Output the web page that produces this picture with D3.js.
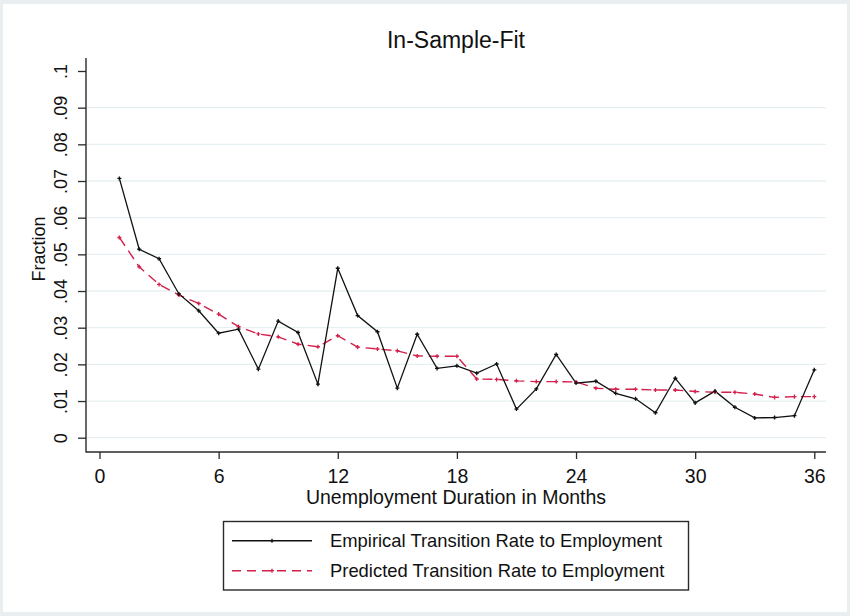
<!DOCTYPE html>
<html>
<head>
<meta charset="utf-8">
<script src="https://cdn.jsdelivr.net/npm/d3@7"></script>
<style>
  html, body { margin: 0; padding: 0; background: #fff; }
  svg { display: block; font-family: "Liberation Sans", Arial, sans-serif; }
</style>
</head>
<body>
<div id="chart"></div>
<script>
// ---- data ----
const months = d3.range(1, 37);
const empirical = [0.0707, 0.0514, 0.0488, 0.0392, 0.0346, 0.0285, 0.0296, 0.0187, 0.0318, 0.0287,
  0.0146, 0.0462, 0.0333, 0.0289, 0.0135, 0.0282, 0.0189, 0.0196, 0.0176, 0.0201,
  0.0078, 0.0133, 0.0227, 0.0149, 0.0154, 0.0121, 0.0106, 0.0068, 0.0162, 0.0095,
  0.0127, 0.0083, 0.0054, 0.0055, 0.0060, 0.0185];
const predicted = [0.0546, 0.0466, 0.0418, 0.0389, 0.0366, 0.0337, 0.0303, 0.0283, 0.0275, 0.0255,
  0.0248, 0.0278, 0.0247, 0.0242, 0.0237, 0.0223, 0.0222, 0.0222, 0.0160, 0.0159,
  0.0155, 0.0153, 0.0153, 0.0152, 0.0135, 0.0132, 0.0132, 0.0130, 0.0130, 0.0126,
  0.0124, 0.0124, 0.0119, 0.0110, 0.0112, 0.0112];
const xTicks = [0, 6, 12, 18, 24, 30, 36];
const yTicks = [0, 0.01, 0.02, 0.03, 0.04, 0.05, 0.06, 0.07, 0.08, 0.09, 0.1];
const gridValues = [0, 0.01, 0.02, 0.03, 0.04, 0.05, 0.06, 0.07, 0.08, 0.09];
const seriesNames = ["Empirical Transition Rate to Employment", "Predicted Transition Rate to Employment"];

const W = 850, H = 616;
const red = "#d2204a";

const svg = d3.select("#chart").append("svg")
  .attr("width", W).attr("height", H);

// light frame round the graph
svg.append("rect").attr("width", W).attr("height", H).attr("fill", "#e9eef0");
svg.append("rect").attr("x", 3).attr("y", 4).attr("width", W - 6).attr("height", H - 8).attr("fill", "#fff");

// plot region
const axisX = 86, axisY = 452, plotRight = 826, plotTop = 58;

const x = d3.scaleLinear().domain([0, 36]).range([99.5, 814.3]);
const y = d3.scaleLinear().domain([0, 0.1]).range([437.7, 71]);

// gridlines
svg.append("g")
  .selectAll("line")
  .data(gridValues)
  .join("line")
  .attr("x1", axisX + 1).attr("x2", plotRight)
  .attr("y1", d => y(d)).attr("y2", d => y(d))
  .attr("stroke", "#e6eff1")
  .attr("stroke-width", 1.3);

// y axis
const yFmt = d => d === 0 ? "0" : d3.format(".2~f")(d).replace(/^0/, "");
const yAxis = svg.append("g")
  .attr("transform", `translate(${axisX},0)`)
  .call(d3.axisLeft(y).tickValues(yTicks).tickFormat(yFmt).tickSize(8).tickSizeOuter(0));
yAxis.select(".domain").remove();
yAxis.append("line")
  .attr("x1", 0).attr("x2", 0).attr("y1", plotTop).attr("y2", axisY + 0.6)
  .attr("stroke", "#2a2a2a").attr("stroke-width", 1.4);
yAxis.selectAll(".tick line").attr("stroke", "#2a2a2a").attr("stroke-width", 1.3);
yAxis.selectAll(".tick text")
  .attr("transform", "rotate(-90)")
  .attr("x", 0).attr("y", -19.5).attr("dy", 0)
  .attr("text-anchor", "middle")
  .attr("fill", "#111")
  .style("font-size", "18px")
  .style("font-family", "'Liberation Sans', Arial, sans-serif");

// x axis
const xAxis = svg.append("g")
  .attr("transform", `translate(0,${axisY})`)
  .call(d3.axisBottom(x).tickValues(xTicks).tickFormat(d3.format("d")).tickSize(7).tickSizeOuter(0));
xAxis.select(".domain").remove();
xAxis.append("line")
  .attr("x1", axisX).attr("x2", plotRight).attr("y1", 0).attr("y2", 0)
  .attr("stroke", "#2a2a2a").attr("stroke-width", 1.4);
xAxis.selectAll(".tick line").attr("stroke", "#2a2a2a").attr("stroke-width", 1.3);
xAxis.selectAll(".tick text")
  .attr("y", 31.3).attr("dy", 0)
  .attr("fill", "#111")
  .style("font-size", "19.5px")
  .style("font-family", "'Liberation Sans', Arial, sans-serif");

// axis titles and title
svg.append("text")
  .attr("x", 456).attr("y", 504)
  .attr("text-anchor", "middle")
  .style("font-size", "19.5px").attr("fill", "#111")
  .text("Unemployment Duration in Months");

svg.append("text")
  .attr("transform", "translate(45,249) rotate(-90)")
  .attr("text-anchor", "middle")
  .style("font-size", "18px").attr("fill", "#111")
  .text("Fraction");

svg.append("text")
  .attr("x", 456).attr("y", 48)
  .attr("text-anchor", "middle")
  .style("font-size", "23px").attr("fill", "#111")
  .text("In-Sample-Fit");

// lines
const line = d3.line()
  .x((d, i) => x(months[i]))
  .y(d => y(d));

svg.append("path")
  .datum(predicted)
  .attr("d", line)
  .attr("fill", "none")
  .attr("stroke", red)
  .attr("stroke-width", 1.4)
  .attr("stroke-dasharray", "10,6");

svg.append("path")
  .datum(empirical)
  .attr("d", line)
  .attr("fill", "none")
  .attr("stroke", "#111")
  .attr("stroke-width", 1.3);

// small plus markers
const cross = d3.symbol().type(d3.symbolCross).size(9);
svg.append("g").selectAll("path")
  .data(predicted)
  .join("path")
  .attr("transform", (d, i) => `translate(${x(months[i])},${y(d)})`)
  .attr("d", cross)
  .attr("fill", red);
svg.append("g").selectAll("path")
  .data(empirical)
  .join("path")
  .attr("transform", (d, i) => `translate(${x(months[i])},${y(d)})`)
  .attr("d", cross)
  .attr("fill", "#111");

// legend
const legend = svg.append("g");
legend.append("rect")
  .attr("x", 223.5).attr("y", 521.5).attr("width", 465).attr("height", 68.5)
  .attr("fill", "#fff").attr("stroke", "#2a2a2a").attr("stroke-width", 1.4);

const legendRows = [
  { name: seriesNames[0], color: "#111", dash: null, yy: 540.7 },
  { name: seriesNames[1], color: red, dash: "9,6", yy: 570.7 }
];
legendRows.forEach(r => {
  legend.append("line")
    .attr("x1", 232).attr("x2", 312).attr("y1", r.yy).attr("y2", r.yy)
    .attr("stroke", r.color).attr("stroke-width", 1.4)
    .attr("stroke-dasharray", r.dash);
  legend.append("path")
    .attr("transform", `translate(272,${r.yy})`)
    .attr("d", cross)
    .attr("fill", r.color);
  legend.append("text")
    .attr("x", 330).attr("y", r.yy + 6.3)
    .style("font-size", "18.4px").attr("fill", "#111")
    .text(r.name);
});
</script>
</body>
</html>
